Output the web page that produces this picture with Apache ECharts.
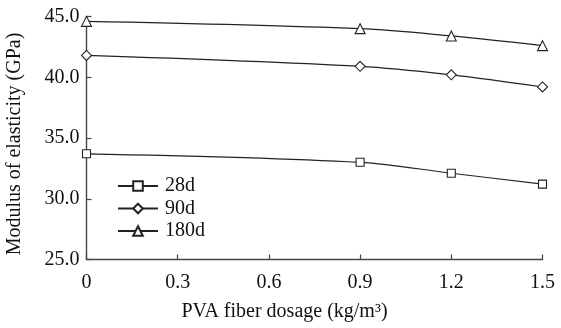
<!DOCTYPE html>
<html><head><meta charset="utf-8">
<script src="https://cdn.jsdelivr.net/npm/echarts@6/dist/echarts.min.js"></script>
<style>html,body{margin:0;padding:0;background:#fff}#c{width:561px;height:328px}</style>
</head><body><div id="c"></div>
<script>
const dosage = [0, 0.9, 1.2, 1.5];
const d28 = [33.7, 33.0, 32.1, 31.2];
const d90 = [41.8, 40.9, 40.2, 39.2];
const d180 = [44.6, 44.0, 43.4, 42.6];
const xTickLabels = ['0', '0.3', '0.6', '0.9', '1.2', '1.5'];
const yTickLabels = ['25.0', '30.0', '35.0', '40.0', '45.0'];
const seriesNames = ['28d', '90d', '180d'];

const font = 'Liberation Serif';
const fs = 20;
const pair = (vals) => dosage.map((x, i) => [x, vals[i]]);
const mk = (name, vals, sym, size) => ({
  name, type: 'line', data: pair(vals), symbol: sym, symbolSize: size,
  smooth: 0.35, clip: false,
  lineStyle: {color: '#222', width: 1.2},
  itemStyle: {color: '#fff', borderColor: '#222', borderWidth: 1.1},
  emphasis: {disabled: true}
});
const chart = echarts.init(document.getElementById('c'));
chart.setOption({
  animation: false,
  grid: {left: 86.5, right: 18.5, top: 16.5, bottom: 68.5, containLabel: false, outerBoundsMode: 'none'},
  legend: {
    orient: 'vertical', left: 112, top: 171, itemWidth: 40, itemHeight: 12, itemGap: 2.5,
    data: seriesNames,
    textStyle: {fontFamily: font, fontSize: fs, color: '#111', lineHeight: 20, padding: [0, 0, 0, 2]}
  },
  xAxis: {
    type: 'value', min: 0, max: 1.5, interval: 0.3,
    name: 'PVA fiber dosage (kg/m³)', nameLocation: 'middle', nameGap: 42,
    nameTextStyle: {fontFamily: font, fontSize: fs, color: '#111', padding: [0, 60, 0, 0]},
    axisLine: {lineStyle: {color: '#444', width: 1.4}},
    axisTick: {inside: true, length: 5, lineStyle: {color: '#444', width: 1.2}},
    axisLabel: {fontFamily: font, fontSize: fs, color: '#111', margin: 13,
      formatter: (v) => xTickLabels[Math.round(v / 0.3)]},
    splitLine: {show: false}
  },
  yAxis: {
    type: 'value', min: 25, max: 45, interval: 5,
    name: 'Modulus of elasticity (GPa)', nameLocation: 'middle', nameGap: 62,
    nameTextStyle: {fontFamily: font, fontSize: fs, color: '#111', padding: [0, 12, 0, 0]},
    axisLine: {show: true, lineStyle: {color: '#444', width: 1.4}},
    axisTick: {show: true, inside: true, length: 5, lineStyle: {color: '#444', width: 1.2}},
    axisLabel: {fontFamily: font, fontSize: fs, color: '#111', margin: 7,
      formatter: (v) => yTickLabels[Math.round((v - 25) / 5)]},
    splitLine: {show: false}
  },
  series: [
    mk(seriesNames[0], d28, 'rect', 8),
    mk(seriesNames[1], d90, 'diamond', 10),
    mk(seriesNames[2], d180, 'triangle', 10)
  ]
});
</script></body></html>
